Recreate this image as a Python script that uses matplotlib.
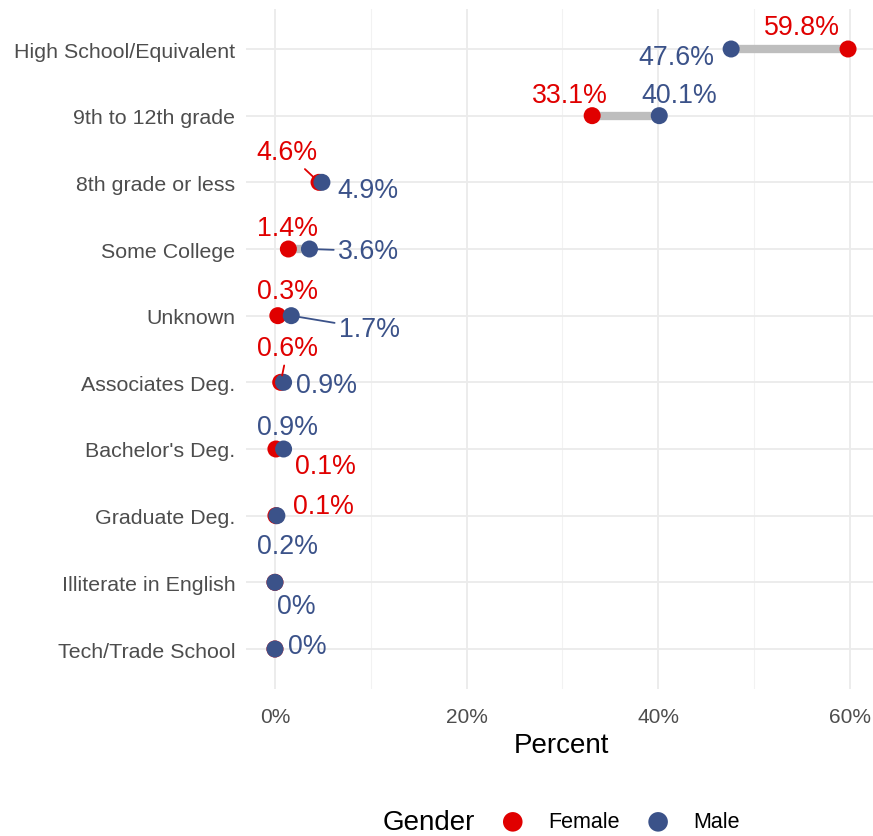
import matplotlib
matplotlib.use("Agg")
import matplotlib.pyplot as plt
import numpy as np

plt.rcParams['font.family'] = ['Liberation Sans', 'DejaVu Sans']

# data, top row first
categories = ["High School/Equivalent", "9th to 12th grade", "8th grade or less",
              "Some College", "Unknown", "Associates Deg.", "Bachelor's Deg.",
              "Graduate Deg.", "Illiterate in English", "Tech/Trade School"]
female = [59.8, 33.1, 4.6, 1.4, 0.3, 0.6, 0.1, 0.1, 0.0, 0.0]
male = [47.6, 40.1, 4.9, 3.6, 1.7, 0.9, 0.9, 0.2, 0.0, 0.0]
female_labels = ["59.8%", "33.1%", "4.6%", "1.4%", "0.3%", "0.6%", "0.1%", "0.1%", None, None]
male_labels = ["47.6%", "40.1%", "4.9%", "3.6%", "1.7%", "0.9%", "0.9%", "0.2%", "0%", "0%"]

# repel-style label offsets (pixels) and whether a leader segment is drawn
f_off = [(-46, 22), (-22, 21), (-32, 30), (-1, 21), (10, 25), (7, 34), (50, -17), (48, 10), None, None]
m_off = [(-55, -8), (20, 21), (46, -8), (59, -2), (78, -13), (43, -3), (4, 22), (11, -30), (21, -24), (32, 3)]
f_seg = [False, False, True, False, False, True, False, False, False, False]
m_seg = [False, False, False, True, True, False, False, False, False, False]

RED = "#E00000"
BLUE = "#3B5289"

fig = plt.figure(figsize=(8.73, 8.37), dpi=100)
ax = fig.add_axes([246.3/873, 1-690/837, (876.7-246.3)/873, 680/837])

n = len(categories)
y = np.arange(n, 0, -1)

##gray bars between the two dots
ax.hlines(y, female, male, color="#BEBEBE", lw=6, zorder=2)
ax.scatter(female, y, s=150, color=RED, zorder=3, label="Female", edgecolors='none')
ax.scatter(male, y, s=150, color=BLUE, zorder=4, label="Male", edgecolors='none')

def put_labels(vals, labels, offs, segs, col):
    for v, yy, lab, off, seg in zip(vals, y, labels, offs, segs):
        if lab is None:
            continue
        kw = {}
        if seg:
            kw['arrowprops'] = dict(arrowstyle='-', color=col, lw=1.3, shrinkA=1, shrinkB=5)
        ax.annotate(lab, (v, yy), xytext=off, textcoords='offset pixels',
                    ha='center', va='center', fontsize=19.3, color=col, zorder=5, **kw)

put_labels(female, female_labels, f_off, f_seg, RED)
put_labels(male, male_labels, m_off, m_seg, BLUE)

ax.set_xlim(-2.99, 62.79)
ax.set_ylim(0.4, n + 0.6)
ax.set_yticks(y)
ax.set_yticklabels(categories)
ax.set_xticks([0, 20, 40, 60])
ax.set_xticklabels(["0%", "20%", "40%", "60%"])
ax.set_xticks([10, 30, 50], minor=True)
ax.tick_params(axis='both', which='both', length=0, colors="#4D4D4D")
ax.tick_params(axis='y', pad=8, labelsize=15.4)
ax.tick_params(axis='x', pad=13, labelsize=15)
ax.grid(True, which='major', color="#EBEBEB", lw=1.3)
ax.grid(True, which='minor', axis='x', color="#F2F2F2", lw=0.8)
ax.set_axisbelow(True)
for s in ax.spines.values():
    s.set_visible(False)

ax.set_xlabel("Percent", fontsize=20, color="black")
ax.xaxis.set_label_coords(0.5, -0.063)
ax.xaxis.label.set_va('top')

fig.text(383/873, 1-823/837, "Gender", fontsize=20, ha='left', va='center')
fig.legend(loc='center left', bbox_to_anchor=(502/873, 1-823/837), ncol=2, frameon=False,
           fontsize=15.5, handlelength=1, handletextpad=1.13, columnspacing=1.3,
           borderpad=0, borderaxespad=0, markerscale=1.15)

fig.savefig("out.png", dpi=100)
